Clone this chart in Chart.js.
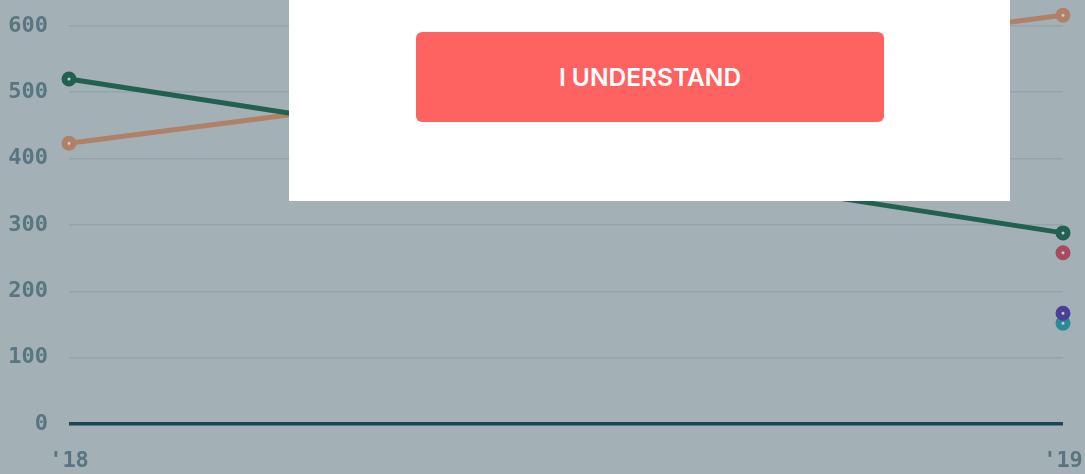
<!DOCTYPE html>
<html>
<head>
<meta charset="utf-8">
<script src="https://cdn.jsdelivr.net/npm/chart.js@4"></script>
<style>
  html, body { margin: 0; padding: 0; width: 1085px; height: 474px; overflow: hidden; background: #a3b1b6; }
  #wrap { position: absolute; left: 0; top: -51px; width: 1085px; height: 525px; }
  #overlay { position: absolute; left: 289px; top: 0; width: 721px; height: 201px; background: #ffffff; }
  #btn { position: absolute; left: 127px; top: 32px; width: 468px; height: 90px; background: #ff6361; border-radius: 6px;
         color: #fff; font-family: Inter, "Open Sans", sans-serif; font-weight: 600; font-size: 24.5px; line-height: 90px; text-align: center; }
</style>
</head>
<body>
<div id="wrap"><canvas id="c"></canvas></div>
<div id="overlay"><div id="btn">I UNDERSTAND</div></div>
<script>
const categories = ["'18", "'19"];
const greenSeries = [520, 288];
const orangeSeries = [423, 616];
const redSeries = [null, 258];
const purpleSeries = [null, 167];
const tealSeries = [null, 152];
const yTicks = [0, 100, 200, 300, 400, 500, 600, 700];

const tickFont = { family: "DejaVu Sans Mono", weight: "bold", size: 22 };
const tickColor = "#587581";

function ds(data, color) {
  return {
    data: data, borderColor: color, backgroundColor: color,
    borderWidth: 5, tension: 0,
    pointRadius: 4.5, pointBorderWidth: 6, pointBorderColor: color,
    pointBackgroundColor: "#c4ced2", pointHoverRadius: 4.5
  };
}

new Chart(document.getElementById('c'), {
  type: 'line',
  data: {
    labels: categories,
    datasets: [
      ds(greenSeries, "#22604f"),
      ds(orangeSeries, "#b08167"),
      ds(redSeries, "#a94b5f"),
      ds(purpleSeries, "#4b3f98"),
      ds(tealSeries, "#2b8b93")
    ]
  },
  options: {
    responsive: true, maintainAspectRatio: false, animation: false, devicePixelRatio: 1,
    layout: { padding: { top: 0, right: 22, left: 0, bottom: 0 } },
    plugins: { legend: { display: false }, tooltip: { enabled: false } },
    scales: {
      x: {
        offset: false,
        grid: { display: false, drawTicks: false },
        border: { display: false },
        ticks: { font: tickFont, color: tickColor, padding: 24, maxRotation: 0 },
        afterFit: function(s) { s.height = 50; s.paddingLeft = 0; s.paddingRight = 0; }
      },
      y: {
        min: 0, max: 700,
        afterBuildTicks: function(s) { s.ticks = yTicks.map(v => ({ value: v })); },
        grid: {
          drawTicks: false,
          color: ctx => ctx.tick && ctx.tick.value === 0 ? "#1d4653" : "#93a4ab",
          lineWidth: ctx => ctx.tick && ctx.tick.value === 0 ? 3.5 : 1.5
        },
        border: { display: false },
        ticks: { font: tickFont, color: tickColor, padding: 21 },
        afterFit: function(s) { s.width = 69; s.paddingTop = 0; s.paddingBottom = 0; }
      }
    }
  }
});
</script>
</body>
</html>
